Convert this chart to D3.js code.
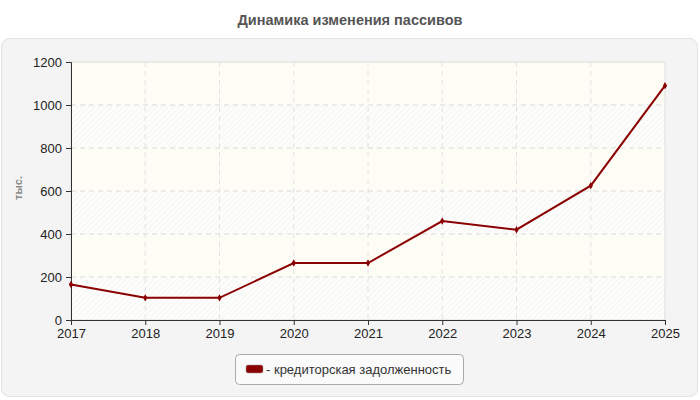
<!DOCTYPE html>
<meta charset="utf-8">
<html>
<head>
<script src="https://d3js.org/d3.v7.min.js"></script>
<style>
  body { margin: 0; background: #fff; font-family: "Liberation Sans", Arial, sans-serif; }
</style>
</head>
<body>
<div id="chart"></div>
<script>
    // data
    const years = ["2017", "2018", "2019", "2020", "2021", "2022", "2023", "2024", "2025"];
    const values = [165, 103, 103, 265, 265, 460, 420, 625, 1090];
    const yTicks = [0, 200, 400, 600, 800, 1000, 1200];
    const seriesName = "кредиторская задолженность";

    const W = 700, H = 400;
    const margin = { top: 62, right: 35, bottom: 80, left: 71 },
        width = W - margin.left - margin.right,
        height = H - margin.top - margin.bottom;

    const root = d3.select("#chart").append("svg")
        .attr("width", W).attr("height", H)
        .style("font-family", "'Liberation Sans', Arial, sans-serif");

    // hatch pattern
    const defs = root.append("defs");
    const pat = defs.append("pattern")
        .attr("id", "hatch")
        .attr("patternUnits", "userSpaceOnUse")
        .attr("width", 4).attr("height", 4)
        .attr("patternTransform", "rotate(45)");
    pat.append("rect").attr("width", 4).attr("height", 4).attr("fill", "#fdfdfb");
    pat.append("line")
        .attr("x1", 0).attr("y1", 0).attr("x2", 0).attr("y2", 4)
        .attr("stroke", "#ededed").attr("stroke-width", 1);

    // title
    root.append("text")
        .attr("x", W / 2).attr("y", 25)
        .attr("text-anchor", "middle")
        .attr("font-size", 14.5).attr("font-weight", "bold")
        .attr("fill", "#555")
        .text("Динамика изменения пассивов");

    // outer panel
    root.append("rect")
        .attr("x", 1.5).attr("y", 38.5)
        .attr("width", 696).attr("height", 358)
        .attr("rx", 8)
        .attr("fill", "#f4f4f4").attr("stroke", "#e2e2e2");

    const svg = root.append("g")
        .attr("transform", `translate(${margin.left},${margin.top})`);

    const x = d3.scalePoint().domain(years).range([0, width]);
    const y = d3.scaleLinear().domain([0, 1200]).range([height, 0]);

    // bands: hatched / cream alternating from the bottom
    const bands = yTicks.slice(0, -1);
    svg.selectAll(".band").data(bands).enter().append("rect")
        .attr("x", 0).attr("width", width)
        .attr("y", d => y(d + 200)).attr("height", d => y(d) - y(d + 200))
        .attr("fill", (d, i) => i % 2 ? "#fdfdf6" : "url(#hatch)");

    // border
    svg.append("rect")
        .attr("x", 0).attr("y", 0).attr("width", width).attr("height", height)
        .attr("fill", "none").attr("stroke", "#dcdcdc");

    // grid
    svg.selectAll(".gy").data(yTicks.slice(1, -1)).enter().append("line")
        .attr("x1", 0).attr("x2", width)
        .attr("y1", d => y(d)).attr("y2", d => y(d))
        .attr("stroke", "#dadada").attr("stroke-dasharray", "5,4");
    svg.selectAll(".gx").data(years.slice(1, -1)).enter().append("line")
        .attr("x1", d => x(d)).attr("x2", d => x(d))
        .attr("y1", 0).attr("y2", height)
        .attr("stroke", "#e2e2e2").attr("stroke-dasharray", "5,4");

    // axes
    const xAxis = svg.append("g")
        .attr("transform", `translate(0,${height})`)
        .call(d3.axisBottom(x).tickSize(5).tickPadding(4));
    const yAxis = svg.append("g")
        .call(d3.axisLeft(y).tickValues(yTicks).tickFormat(d3.format("d")).tickSize(5).tickPadding(4));
    [xAxis, yAxis].forEach(a => {
        a.selectAll("path").attr("stroke", "#333");
        a.selectAll("line").attr("stroke", "#333");
        a.selectAll("text").attr("font-size", 13).attr("fill", "#222")
            .attr("font-family", "'Liberation Sans', Arial, sans-serif");
    });

    // y label
    root.append("text")
        .attr("transform", "translate(22,188) rotate(-90)")
        .attr("text-anchor", "middle")
        .attr("font-size", 11).attr("font-weight", "bold")
        .attr("fill", "#888")
        .text("тыс.");

    // line
    const pts = years.map((yr, i) => ({ year: yr, value: values[i] }));
    const line = d3.line().x(d => x(d.year)).y(d => y(d.value));
    svg.append("path")
        .datum(pts)
        .attr("d", line)
        .attr("fill", "none")
        .attr("stroke", "#8b0000")
        .attr("stroke-width", 2);

    svg.selectAll(".pt").data(pts).enter().append("path")
        .attr("d", d3.symbol().type(d3.symbolDiamond).size(16))
        .attr("transform", d => `translate(${x(d.year)},${y(d.value)})`)
        .attr("fill", "#8b0000");

    // legend
    const lg = root.append("g").attr("transform", "translate(235,354)");
    lg.append("rect")
        .attr("x", 0.5).attr("y", 0.5).attr("width", 228).attr("height", 30)
        .attr("rx", 4)
        .attr("fill", "#fafafa").attr("stroke", "#aaa");
    lg.append("rect")
        .attr("x", 11).attr("y", 11).attr("width", 17).attr("height", 8)
        .attr("rx", 2)
        .attr("fill", "#8b0000").attr("stroke", "#999").attr("stroke-width", 0.5);
    lg.append("text")
        .attr("x", 31).attr("y", 20)
        .attr("font-size", 13).attr("fill", "#333")
        .text("- " + seriesName);
</script>
</body>
</html>
